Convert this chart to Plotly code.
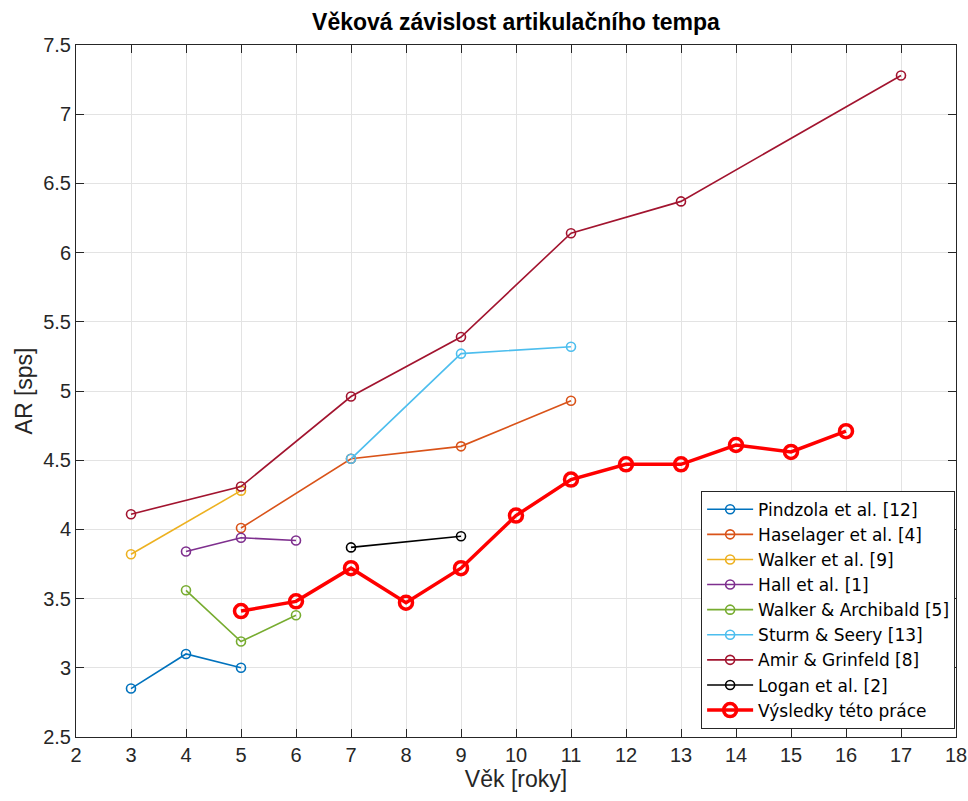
import plotly.graph_objects as go

# Articulation rate (syllables per second) by age, literature vs. this work
pindzola_x = [3, 4, 5]
pindzola_y = [2.85, 3.10, 3.00]
haselager_x = [5, 7, 9, 11]
haselager_y = [4.01, 4.51, 4.60, 4.93]
walker_x = [3, 5]
walker_y = [3.82, 4.28]
hall_x = [4, 5, 6]
hall_y = [3.84, 3.94, 3.92]
walker_arch_x = [4, 5, 6]
walker_arch_y = [3.56, 3.19, 3.38]
sturm_x = [7, 9, 11]
sturm_y = [4.51, 5.27, 5.32]
amir_x = [3, 5, 7, 9, 11, 13, 17]
amir_y = [4.11, 4.31, 4.96, 5.39, 6.14, 6.37, 7.28]
logan_x = [7, 9]
logan_y = [3.87, 3.95]
results_x = [5, 6, 7, 8, 9, 10, 11, 12, 13, 14, 15, 16]
results_y = [3.41, 3.48, 3.72, 3.47, 3.72, 4.10, 4.36, 4.47, 4.47, 4.61, 4.56, 4.71]

x_ticks = list(range(2, 19))
y_ticks = [2.5, 3, 3.5, 4, 4.5, 5, 5.5, 6, 6.5, 7, 7.5]
y_tick_text = ["2.5", "3", "3.5", "4", "4.5", "5", "5.5", "6", "6.5", "7", "7.5"]

series = [
    ("Pindzola et al. [12]", pindzola_x, pindzola_y, "#0072BD"),
    ("Haselager et al. [4]", haselager_x, haselager_y, "#D95319"),
    ("Walker et al. [9]", walker_x, walker_y, "#EDB120"),
    ("Hall et al. [1]", hall_x, hall_y, "#7E2F8E"),
    ("Walker & Archibald [5]", walker_arch_x, walker_arch_y, "#77AC30"),
    ("Sturm & Seery [13]", sturm_x, sturm_y, "#4DBEEE"),
    ("Amir & Grinfeld [8]", amir_x, amir_y, "#A2142F"),
    ("Logan et al. [2]", logan_x, logan_y, "#000000"),
]

FONT = "Liberation Sans"
LEGEND_FONT = "DejaVu Sans"

fig = go.Figure()
for name, xs, ys, color in series:
    fig.add_trace(go.Scatter(
        x=xs, y=ys, name=name, mode="lines+markers",
        line=dict(color=color, width=1.6),
        marker=dict(symbol="circle-open", size=9, color=color, line=dict(width=1.6)),
    ))

fig.add_trace(go.Scatter(
    x=results_x, y=results_y, name="Výsledky této práce", mode="lines+markers",
    line=dict(color="#FF0000", width=3.5),
    marker=dict(symbol="circle-open", size=13, color="#FF0000", line=dict(width=3.5)),
))

axis_common = dict(
    showline=True, linecolor="#262626", linewidth=1, mirror="ticks",
    ticks="inside", ticklen=8, tickcolor="#262626", tickwidth=1,
    showgrid=True, gridcolor="#E3E3E3", gridwidth=1,
    zeroline=False, automargin=False,
    tickfont=dict(family=FONT, size=20, color="#262626"),
)

fig.update_layout(
    width=968, height=801,
    margin=dict(l=76, r=12, t=45, b=64),
    paper_bgcolor="white", plot_bgcolor="white",
    title=dict(text="<b>Věková závislost artikulačního tempa</b>", x=0.5, xanchor="center",
               xref="paper", y=0.972, yanchor="middle",
               font=dict(family=FONT, size=23, color="#000000")),
    xaxis=dict(range=[2, 18], tickvals=x_ticks,
               title=dict(text="Věk [roky]", font=dict(family=FONT, size=23, color="#262626"),
                          standoff=4),
               **axis_common),
    yaxis=dict(range=[2.5, 7.5], tickvals=y_ticks, ticktext=y_tick_text,
               title=dict(text="AR [sps]", font=dict(family=FONT, size=23, color="#262626"),
                          standoff=4),
               **axis_common),
    legend=dict(x=0.999, y=0.012, xanchor="right", yanchor="bottom",
                bgcolor="white", bordercolor="#262626", borderwidth=1,
                font=dict(family=LEGEND_FONT, size=17, color="#000000"),
                tracegroupgap=0, itemwidth=46),
    showlegend=True,
)

fig.write_html("out.html")
